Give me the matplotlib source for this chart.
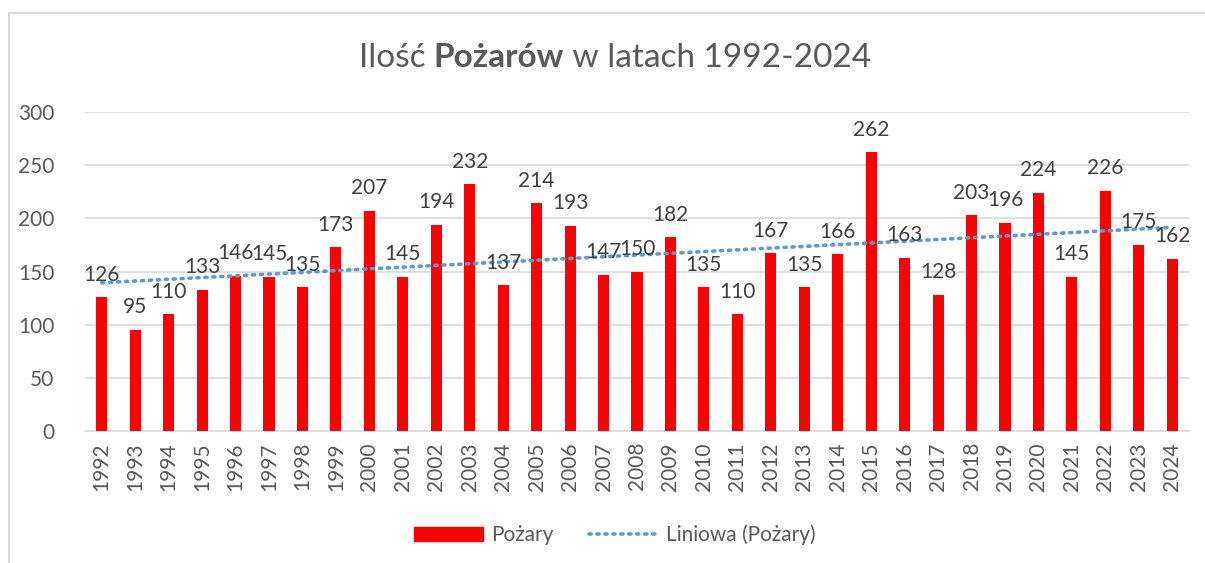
import numpy as np
import matplotlib.pyplot as plt
from matplotlib.patches import Patch, Rectangle
from matplotlib.lines import Line2D

plt.rcParams['font.family'] = ['Lato', 'DejaVu Sans']

lata = list(range(1992, 2025))
pozary = [126, 95, 110, 133, 146, 145, 135, 173, 207, 145, 194, 232, 137, 214, 193,
          147, 150, 182, 135, 110, 167, 135, 166, 262, 163, 128, 203, 196, 224, 145,
          226, 175, 162]

szary = '#595959'
W, H = 1205, 563
fig = plt.figure(figsize=(W / 100, H / 100), dpi=100)

# ramka wykresu (jak w Excelu)
fig.patches.append(Rectangle((9 / W, -0.2), 1.2, 1 - 13 / H + 0.2, transform=fig.transFigure,
                             fill=False, ec='#d9d9d9', lw=1.5))

ax = fig.add_axes([85 / W, 1 - 431 / H, (1189 - 85) / W, (431 - 112) / H])
x = np.arange(len(lata))
ax.bar(x, pozary, width=0.33, color='#ff0000', zorder=3)

# linia trendu (liniowa)
a, b = np.polyfit(x, pozary, 1)
ax.plot(x, a * x + b, color='#5b9bd5', lw=2.6, linestyle=(0, (0.6, 1.6)),
        dash_capstyle='round', zorder=4)

for xi, v in zip(x, pozary):
    ax.annotate(str(v), (xi, v), xytext=(0, 9), textcoords='offset points',
                ha='center', va='bottom', fontsize=15, color='#404040', zorder=5)

ax.set_xlim(-0.5, len(lata) - 0.5)
ax.set_ylim(0, 300)
ax.set_yticks(range(0, 301, 50))
ax.set_xticks(x)
ax.set_xticklabels([str(r) for r in lata], rotation=90)
ax.tick_params(axis='both', length=0, labelsize=15, colors=szary)
ax.tick_params(axis='y', pad=22)
ax.tick_params(axis='x', pad=8)
ax.grid(axis='y', color='#d9d9d9', lw=1.2, zorder=0)
for s in ['top', 'right', 'left']:
    ax.spines[s].set_visible(False)
ax.spines['bottom'].set_color('#d9d9d9')
ax.spines['bottom'].set_linewidth(1.2)

# tytuł z pogrubionym słowem
czesci = [('Ilość ', 'normal'), ('Pożarów', 'bold'), (' w latach 1992-2024', 'normal')]
fig.canvas.draw()
r = fig.canvas.get_renderer()
teksty = []
for t, w in czesci:
    teksty.append(fig.text(0, 1 - 58 / H, t, fontsize=24, fontweight=w, color=szary, va='center'))
szer = [tx.get_window_extent(r).width for tx in teksty]
x0 = (615 - sum(szer) / 2) / W
for tx, sw in zip(teksty, szer):
    tx.set_x(x0)
    x0 += sw / W

uchwyty = [Patch(color='#ff0000', label='Pożary'),
           Line2D([], [], color='#5b9bd5', lw=2.6, linestyle=(0, (0.6, 1.6)),
                  dash_capstyle='round', label='Liniowa (Pożary)')]
fig.legend(handles=uchwyty, loc='center', bbox_to_anchor=(615 / W, 1 - 535 / H),
           ncol=2, frameon=False, fontsize=15, labelcolor=szary, handlelength=3.3,
           handleheight=0.6, columnspacing=1.7, handletextpad=0.4)

fig.savefig('out.png', dpi=100)
